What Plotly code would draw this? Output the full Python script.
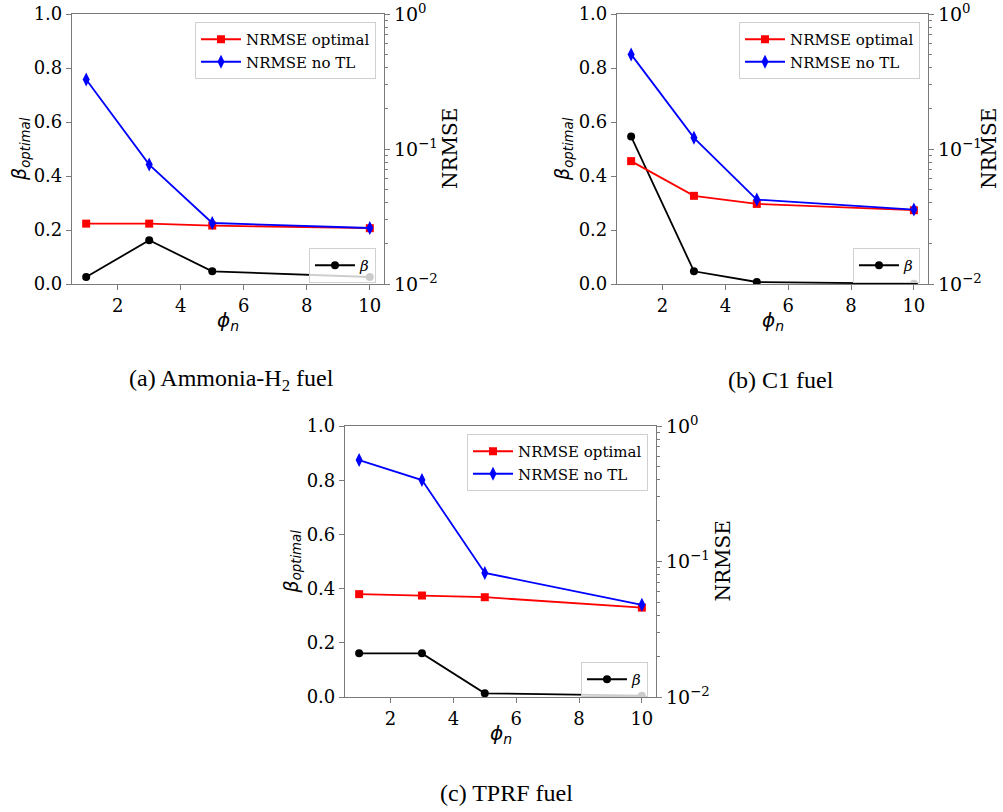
import plotly.graph_objects as go

phi_n = [1, 3, 5, 10]

# (a) Ammonia-H2 fuel
beta_a = [0.026, 0.162, 0.047, 0.026]
nrmse_opt_a = [0.0280, 0.0280, 0.0271, 0.0259]
nrmse_notl_a = [0.327, 0.0767, 0.0283, 0.0260]

# (b) C1 fuel
beta_b = [0.546, 0.047, 0.0074, 0.001]
nrmse_opt_b = [0.0813, 0.0450, 0.0392, 0.0352]
nrmse_notl_b = [0.502, 0.121, 0.0422, 0.0356]

# (c) TPRF fuel
beta_c = [0.161, 0.161, 0.0135, 0.005]
nrmse_opt_c = [0.0574, 0.0561, 0.0545, 0.0457]
nrmse_notl_c = [0.561, 0.399, 0.0824, 0.0479]

captions = ["(a) Ammonia-H<sub>2</sub> fuel", "(b) C1 fuel", "(c) TPRF fuel"]

W, H = 1003, 812
SPINE = "#7a7a7a"
SERIF = "DejaVu Serif"
SANS = "DejaVu Sans"


def px(x):
    return x / W


def py(y):
    return 1 - y / H


# panel geometry in pixels: (left, right, top, bottom)
panels = [
    dict(box=(72, 384, 14, 284), beta=beta_a, opt=nrmse_opt_a, notl=nrmse_notl_a,
         leg1=(376, 22), leg2=(376, 248), betalab=20, nrmselab=450, cap=(231, 380)),
    dict(box=(617, 928, 14, 284), beta=beta_b, opt=nrmse_opt_b, notl=nrmse_notl_b,
         leg1=(920, 22), leg2=(920, 248), betalab=563, nrmselab=989, cap=(781, 380)),
    dict(box=(345, 656, 426, 697), beta=beta_c, opt=nrmse_opt_c, notl=nrmse_notl_c,
         leg1=(648, 434), leg2=(648, 662), betalab=292, nrmselab=722, cap=(506, 793)),
]

fig = go.Figure()
layout = dict(width=W, height=H, margin=dict(l=0, r=0, t=0, b=0, autoexpand=False),
              plot_bgcolor="white", paper_bgcolor="white", showlegend=True)
annotations = []

minor_vals = [m * 10 ** e for e in (-2, -1) for m in range(2, 10)]

for i, p in enumerate(panels):
    L, R, T, B = p["box"]
    xa = "x" if i == 0 else f"x{i + 1}"
    ya1 = f"y{2 * i + 1}" if i > 0 else "y"
    ya2 = f"y{2 * i + 2}"
    xkey = "xaxis" if i == 0 else f"xaxis{i + 1}"
    y1key = "yaxis" if i == 0 else f"yaxis{2 * i + 1}"
    y2key = f"yaxis{2 * i + 2}"
    leg_a = "legend" if i == 0 else f"legend{2 * i + 1}"
    leg_b = f"legend{2 * i + 2}"

    fig.add_trace(go.Scatter(x=phi_n, y=p["beta"], mode="lines+markers", name="<i>β</i>",
                             line=dict(color="black", width=1.8),
                             marker=dict(symbol="circle", size=8, color="black"),
                             xaxis=xa, yaxis=ya1, legend=leg_b))
    fig.add_trace(go.Scatter(x=phi_n, y=p["opt"], mode="lines+markers", name="NRMSE optimal",
                             line=dict(color="red", width=1.8),
                             marker=dict(symbol="square", size=8, color="red"),
                             xaxis=xa, yaxis=ya2, legend=leg_a))
    fig.add_trace(go.Scatter(x=phi_n, y=p["notl"], mode="lines+markers", name="NRMSE no TL",
                             line=dict(color="blue", width=1.8),
                             marker=dict(symbol="diamond-tall", size=10, color="blue"),
                             xaxis=xa, yaxis=ya2, legend=leg_a))

    layout[xkey] = dict(domain=[px(L), px(R)], anchor=ya1, range=[0.55, 10.45],
                        tickvals=[2, 4, 6, 8, 10], ticks="outside", ticklen=5, tickcolor=SPINE,
                        showline=True, linecolor=SPINE, linewidth=1.2, mirror=True,
                        showgrid=False, zeroline=False, automargin=False,
                        tickfont=dict(family=SERIF, size=18, color="black"))
    layout[y1key] = dict(domain=[py(B), py(T)], anchor=xa, range=[0, 1],
                         tickvals=[0, 0.2, 0.4, 0.6, 0.8, 1.0], tickformat=".1f",
                         ticks="outside", ticklen=5, tickcolor=SPINE,
                         showline=True, linecolor=SPINE, linewidth=1.2,
                         showgrid=False, zeroline=False, automargin=False,
                         tickfont=dict(family=SERIF, size=18, color="black"))
    layout[y2key] = dict(overlaying=ya1, anchor=xa, side="right", type="log", range=[-2, 0],
                         tickvals=[0.01, 0.1, 1],
                         ticktext=["10<sup>−2</sup>", "10<sup>−1</sup>", "10<sup>0</sup>"],
                         ticks="outside", ticklen=5, tickcolor=SPINE,
                         minor=dict(tickvals=minor_vals, ticks="outside", ticklen=3,
                                    tickcolor=SPINE, showgrid=False),
                         showline=True, linecolor=SPINE, linewidth=1.2,
                         showgrid=False, zeroline=False, automargin=False,
                         tickfont=dict(family=SERIF, size=19, color="black"))

    legstyle = dict(bgcolor="rgba(255,255,255,0.8)", bordercolor="#d0d0d0", borderwidth=1,
                    font=dict(family=SERIF, size=15, color="black"),
                    xanchor="right", yanchor="top", xref="paper", yref="paper",
                    tracegroupgap=0, itemwidth=40)
    layout[leg_a] = dict(x=px(p["leg1"][0]), y=py(p["leg1"][1]), **legstyle)
    layout[leg_b] = dict(x=px(p["leg2"][0]), y=py(p["leg2"][1]), **legstyle)

    cx = (L + R) / 2
    cy = (T + B) / 2
    annotations.append(dict(text="<i>ϕ</i><sub><i>n</i></sub>", x=px(cx), y=py(B + 37),
                            xref="paper", yref="paper", showarrow=False,
                            xanchor="center", yanchor="middle",
                            font=dict(family=SANS, size=20, color="black")))
    annotations.append(dict(text="<i>β</i><sub><i>optimal</i></sub>", x=px(p["betalab"]), y=py(cy),
                            xref="paper", yref="paper", showarrow=False, textangle=-90,
                            xanchor="center", yanchor="middle",
                            font=dict(family=SANS, size=19, color="black")))
    annotations.append(dict(text="NRMSE", x=px(p["nrmselab"]), y=py(cy),
                            xref="paper", yref="paper", showarrow=False, textangle=-90,
                            xanchor="center", yanchor="middle",
                            font=dict(family=SERIF, size=20, color="black")))
    annotations.append(dict(text=captions[i], x=px(p["cap"][0]), y=py(p["cap"][1]),
                            xref="paper", yref="paper", showarrow=False,
                            xanchor="center", yanchor="middle",
                            font=dict(family="Liberation Serif", size=24, color="black")))

layout["annotations"] = annotations
fig.update_layout(**layout)
fig.write_html("out.html")
